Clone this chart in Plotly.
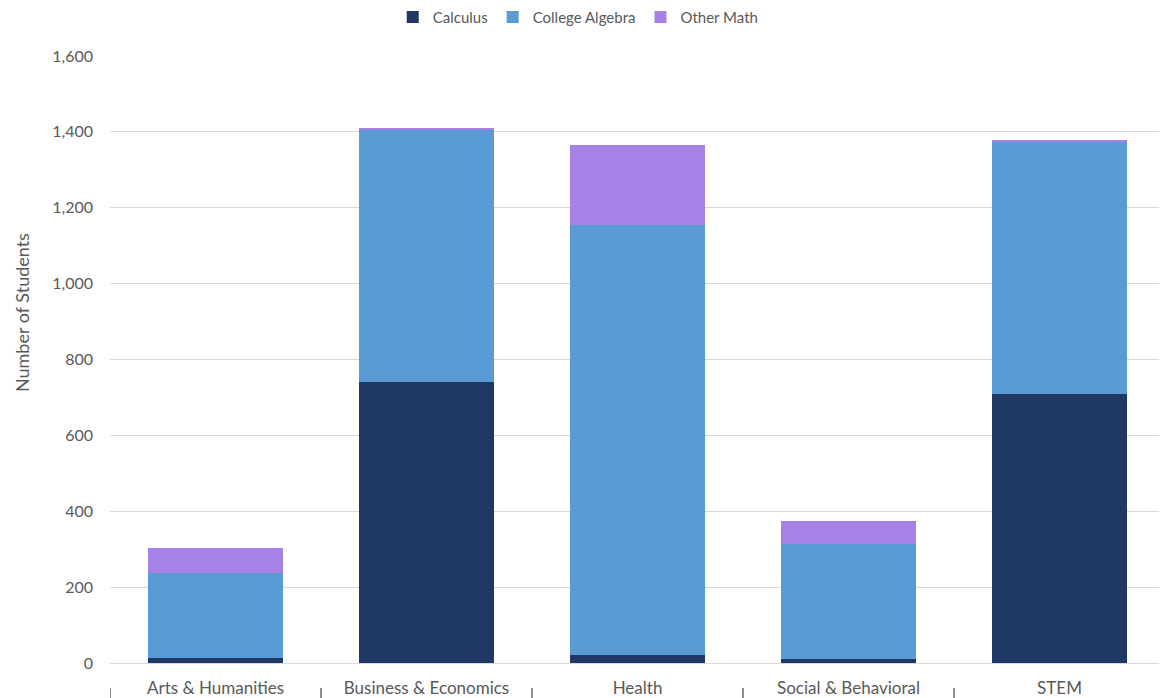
import plotly.graph_objects as go

categories = ["Arts & Humanities", "Business & Economics", "Health", "Social & Behavioral", "STEM"]
calculus = [14, 741, 22, 10, 710]
college_algebra = [222, 664, 1132, 304, 664]
other_math = [66, 4, 212, 61, 3]
y_ticks = [0, 200, 400, 600, 800, 1000, 1200, 1400, 1600]
y_tick_labels = ["0", "200", "400", "600", "800", "1,000", "1,200", "1,400", "1,600"]

FONT = "Lato"
GREY = "#595959"

fig = go.Figure()
fig.add_trace(go.Bar(name="Calculus", x=categories, y=calculus, marker_color="#203864",
                     marker_line_width=0))
fig.add_trace(go.Bar(name="College Algebra", x=categories, y=college_algebra, marker_color="#5B9BD5",
                     marker_line_width=0))
fig.add_trace(go.Bar(name="Other Math", x=categories, y=other_math, marker_color="#A682E6",
                     marker_line_width=0))

# category boundary tick marks below labels
for k in range(len(categories)):
    fig.add_shape(type="line", xref="x", yref="paper", x0=k - 0.5, x1=k - 0.5,
                  y0=-0.041, y1=-0.06, line=dict(color="#404040", width=1.2))

fig.add_annotation(text="Number of Students", xref="paper", yref="paper", x=-0.0835, y=0.578,
                   xanchor="center", yanchor="middle",
                   textangle=-90, showarrow=False, font=dict(family=FONT, size=18, color=GREY))

fig.update_layout(
    barmode="stack",
    bargap=0.36,
    width=1159, height=690,
    margin=dict(l=102, r=2, t=48, b=35, autoexpand=False),
    plot_bgcolor="white", paper_bgcolor="white",
    font=dict(family=FONT, size=15, color=GREY),
    legend=dict(orientation="h", x=0.268, xanchor="left", y=1.064, yanchor="middle",
                font=dict(family=FONT, size=15, color=GREY), traceorder="normal",
                itemwidth=30),
    showlegend=True,
)
fig.update_xaxes(showgrid=False, showline=False, ticks="", ticklabelstandoff=13,
                 tickfont=dict(family=FONT, size=17, color=GREY), range=[-0.5, 4.5])
fig.update_yaxes(range=[0, 1600], tickvals=y_ticks, ticktext=y_tick_labels,
                 showgrid=True, gridcolor="#D9D9D9", gridwidth=1,
                 zeroline=True, zerolinecolor="#D9D9D9", zerolinewidth=1,
                 showline=False, ticks="", ticklabelstandoff=16,
                 tickfont=dict(family=FONT, size=16, color=GREY))

fig.write_html("out.html")
